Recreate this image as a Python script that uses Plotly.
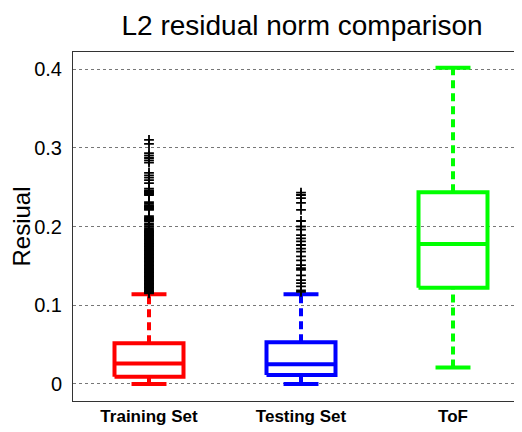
import plotly.graph_objects as go

categories = ["Training Set", "Testing Set", "ToF"]
positions = [1, 2, 3]
colors = ["#ff0000", "#0000ff", "#00ff00"]

lower_whisker = [0.0, 0.0, 0.021]
q1 = [0.0093, 0.0114, 0.1223]
median = [0.026, 0.025, 0.1778]
q3 = [0.0517, 0.053, 0.2434]
upper_whisker = [0.114, 0.114, 0.4017]

train_outliers = [0.115, 0.116, 0.117, 0.118, 0.119, 0.120, 0.121, 0.122, 0.123, 0.124,
                  0.125, 0.126, 0.127, 0.128, 0.129, 0.130, 0.131, 0.132, 0.133, 0.134,
                  0.135, 0.136, 0.137, 0.138, 0.139, 0.140, 0.141, 0.142, 0.143, 0.144,
                  0.145, 0.146, 0.147, 0.148, 0.149, 0.150, 0.151, 0.152, 0.153, 0.154,
                  0.155, 0.156, 0.157, 0.158, 0.159, 0.160, 0.161, 0.162, 0.163, 0.164,
                  0.165, 0.166, 0.167, 0.168, 0.169, 0.170, 0.171, 0.172, 0.173, 0.174,
                  0.175, 0.176, 0.177, 0.178, 0.179, 0.180, 0.181, 0.182, 0.183, 0.184,
                  0.185, 0.186, 0.187, 0.188, 0.189, 0.190, 0.191, 0.192, 0.193, 0.194,
                  0.195, 0.196, 0.198, 0.200, 0.202, 0.204, 0.207, 0.208, 0.209, 0.210,
                  0.211, 0.213, 0.221, 0.222, 0.223, 0.224, 0.225, 0.226, 0.227, 0.229,
                  0.231, 0.240, 0.241, 0.242, 0.243, 0.244, 0.245, 0.246, 0.248, 0.255,
                  0.259, 0.262, 0.265, 0.268, 0.281, 0.284, 0.287, 0.290, 0.293, 0.305, 0.310]
test_outliers = [0.117, 0.119, 0.124, 0.128, 0.132, 0.138, 0.145, 0.147, 0.151, 0.157,
                 0.162, 0.168, 0.172, 0.1765, 0.181, 0.185, 0.189, 0.196, 0.200, 0.207,
                 0.221, 0.230, 0.236, 0.240, 0.243]
tof_outliers = []
outliers = [train_outliers, test_outliers, tof_outliers]

y_ticks = [0, 0.1, 0.2, 0.3, 0.4]
y_tick_labels = ["0", "0.1", "0.2", "0.3", "0.4"]

BOX_HALF = 0.227
CAP_HALF = 0.115
LW = 4
FONT = "Liberation Sans, Arial, Helvetica, sans-serif"

# page body has an 8px margin; the figure is sized to fit inside the window
W, H = 514, 424

fig = go.Figure()
for i, c in enumerate(positions):
    col = colors[i]
    fig.add_trace(go.Scatter(x=[c, c], y=[q3[i], upper_whisker[i]], mode="lines",
                             line=dict(color=col, width=LW, dash="8px,5px"), showlegend=False, hoverinfo="skip"))
    fig.add_trace(go.Scatter(x=[c, c], y=[lower_whisker[i], q1[i]], mode="lines",
                             line=dict(color=col, width=LW, dash="8px,5px"), showlegend=False, hoverinfo="skip"))
    for v in (upper_whisker[i], lower_whisker[i]):
        fig.add_trace(go.Scatter(x=[c - CAP_HALF, c + CAP_HALF], y=[v, v], mode="lines",
                                 line=dict(color=col, width=LW), showlegend=False, hoverinfo="skip"))
    fig.add_trace(go.Scatter(x=[c - BOX_HALF, c + BOX_HALF, c + BOX_HALF, c - BOX_HALF, c - BOX_HALF],
                             y=[q1[i], q1[i], q3[i], q3[i], q1[i]], mode="lines",
                             line=dict(color=col, width=LW), showlegend=False, hoverinfo="skip"))
    fig.add_trace(go.Scatter(x=[c - BOX_HALF, c + BOX_HALF], y=[median[i], median[i]], mode="lines",
                             line=dict(color=col, width=LW), showlegend=False, hoverinfo="skip"))
    if outliers[i]:
        fig.add_trace(go.Scatter(x=[c] * len(outliers[i]), y=outliers[i], mode="markers",
                                 marker=dict(symbol="cross-thin", size=7, line=dict(color="black", width=1.8)),
                                 showlegend=False, hoverinfo="skip"))

fig.update_layout(
    width=W, height=H,
    margin=dict(l=65, r=0, t=44, b=31),
    paper_bgcolor="white", plot_bgcolor="white",
    font=dict(family=FONT, color="black"),
    title=dict(text="L2 residual norm comparison", x=294 / W, xref="container", xanchor="center",
               y=1 - 17 / H, yref="container", yanchor="middle",
               font=dict(size=28, color="black")),
)
fig.update_xaxes(range=[0.5, 0.5 + 449 / 152], tickvals=positions,
                 ticktext=["<b>" + t + "</b>" for t in categories],
                 showgrid=False, zeroline=False, showline=True, linecolor="#333", linewidth=1,
                 mirror=True, ticks="", tickfont=dict(size=17))
fig.update_yaxes(range=[-0.0216, 0.4216], tickvals=y_ticks, ticktext=y_tick_labels,
                 showgrid=True, gridcolor="#777", griddash="dot", gridwidth=1,
                 zeroline=False, showline=True, linecolor="#333", linewidth=1, mirror=False,
                 ticks="", ticklabelstandoff=6, tickfont=dict(size=20),
                 title=dict(text="Resiual", font=dict(size=24), standoff=2))

fig.write_html("out.html")
